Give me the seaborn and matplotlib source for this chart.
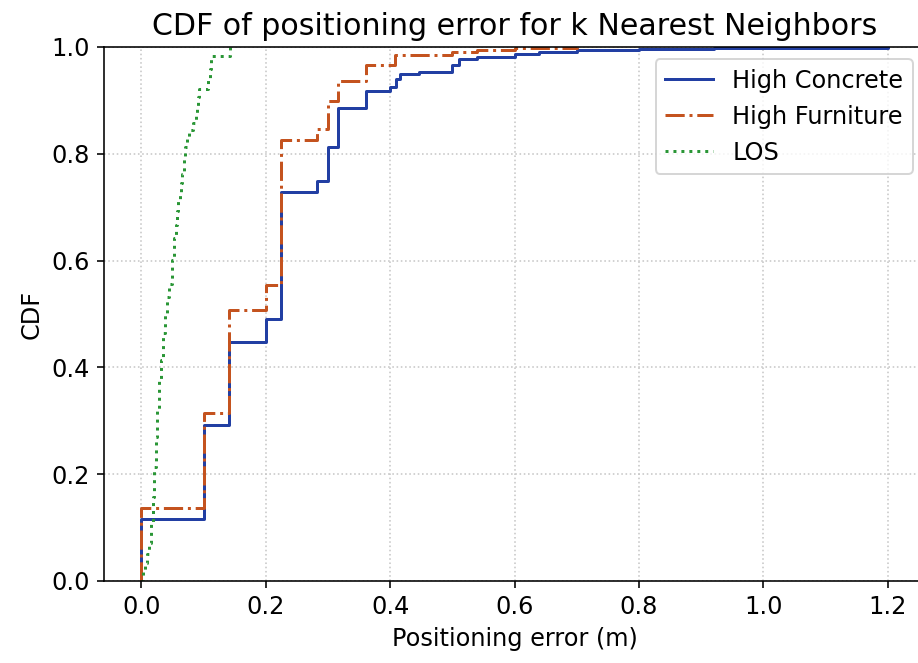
import numpy as np
import pandas as pd
import matplotlib
matplotlib.use("Agg")
import matplotlib.pyplot as plt
import seaborn as sns

# Step points of each empirical CDF: positioning error (m) and cumulative fraction
concrete_err = [0.0, 0.0, 0.100, 0.141, 0.200, 0.224, 0.283, 0.300, 0.316, 0.361,
                0.400, 0.410, 0.416, 0.447, 0.500, 0.510, 0.539, 0.600, 0.640,
                0.700, 0.800, 0.920, 1.200]
concrete_cdf = [0.0, 0.117, 0.292, 0.448, 0.490, 0.729, 0.750, 0.812, 0.885, 0.918,
                0.926, 0.941, 0.949, 0.954, 0.966, 0.977, 0.981, 0.987, 0.991,
                0.994, 0.997, 0.998, 1.000]

furniture_err = [0.0, 0.0, 0.100, 0.141, 0.200, 0.224, 0.283, 0.300, 0.316, 0.361,
                 0.408, 0.500, 0.540, 0.600, 0.700]
furniture_cdf = [0.0, 0.136, 0.315, 0.507, 0.554, 0.826, 0.846, 0.898, 0.937, 0.966,
                 0.985, 0.991, 0.995, 0.998, 1.000]

los_err = [0.0, 0.002, 0.006, 0.009, 0.012, 0.016, 0.018, 0.021, 0.024, 0.026,
           0.029, 0.032, 0.035, 0.038, 0.041, 0.044, 0.049, 0.052, 0.055, 0.057,
           0.059, 0.062, 0.063, 0.065, 0.068, 0.069, 0.071, 0.073, 0.077, 0.083,
           0.088, 0.090, 0.091, 0.092, 0.108, 0.110, 0.112, 0.142]
los_cdf = [0.0, 0.020, 0.033, 0.050, 0.071, 0.108, 0.158, 0.214, 0.270, 0.320,
           0.376, 0.414, 0.464, 0.501, 0.532, 0.557, 0.601, 0.642, 0.667, 0.693,
           0.713, 0.729, 0.746, 0.763, 0.779, 0.796, 0.813, 0.831, 0.845, 0.858,
           0.871, 0.888, 0.906, 0.922, 0.941, 0.958, 0.984, 1.000]

series_names = ["High Concrete", "High Furniture", "LOS"]
series_colors = ["#223fa3", "#c4531f", "#2a9636"]
series_styles = ["-", "-.", ":"]

series = [
    pd.DataFrame({"err": concrete_err, "cdf": concrete_cdf}),
    pd.DataFrame({"err": furniture_err, "cdf": furniture_cdf}),
    pd.DataFrame({"err": los_err, "cdf": los_cdf}),
]

plt.rcParams["font.size"] = 12

fig = plt.figure(figsize=(918 / 144, 663 / 144), dpi=144)
ax = fig.add_axes([104 / 918, 82 / 663, 821 / 918, 534 / 663])

for df, name, color, ls in zip(series, series_names, series_colors, series_styles):
    sns.lineplot(data=df, x="err", y="cdf", ax=ax, color=color, linestyle=ls,
                 linewidth=1.5, drawstyle="steps-post", sort=False,
                 estimator=None, label=name)

ax.set_xlim(-0.06, 1.26)
ax.set_ylim(0, 1)
ax.set_xticks(np.arange(0, 1.21, 0.2))
ax.set_yticks(np.arange(0, 1.01, 0.2))
ax.grid(True, linestyle=":", color="#c8c8c8", linewidth=0.8)
ax.set_axisbelow(True)

ax.set_title("CDF of positioning error for k Nearest Neighbors", fontsize=15)
ax.set_xlabel("Positioning error (m)")
ax.set_ylabel("CDF")
ax.legend(loc="upper right")

fig.savefig("out.png", dpi=144)
